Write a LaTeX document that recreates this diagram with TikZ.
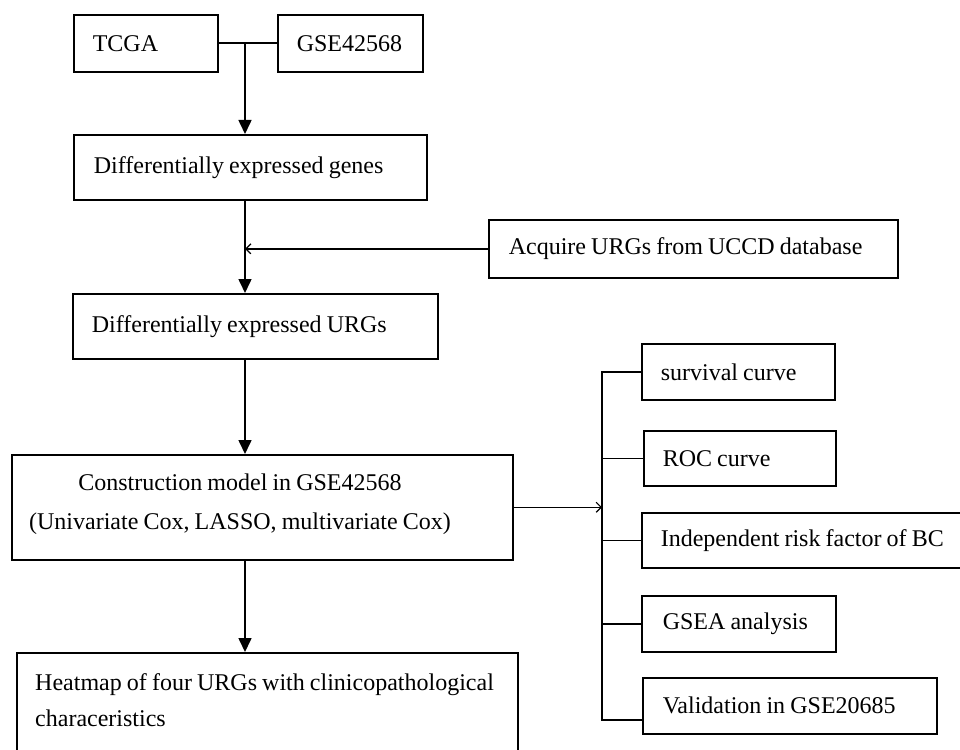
\documentclass[tikz,border=0pt]{standalone}
\usepackage{fontspec}
\setmainfont{Liberation Serif}[WordSpace=0.85]
\usetikzlibrary{arrows.meta}
\tikzset{
  bx/.style={draw, line width=1.6pt, anchor=north west, inner ysep=0pt, align=left,
    font=\fontsize{24}{36}\selectfont, execute at begin node={\spaceskip=0pt\xspaceskip=0pt\relax}},
  txt/.style={inner sep=0pt, font=\fontsize{24}{36}\selectfont},
  ln/.style={line width=1.6pt},
  big/.style={ln, -{Triangle[width=13pt,length=14pt]}},
  small/.style={ln, -{Straight Barb[length=5pt,width=10pt,line width=1.2pt]}}
}
\begin{document}
\begin{tikzpicture}[x=1pt,y=-1pt]
\useasboundingbox (0,0) rectangle (960,749);
\clip (0,0) rectangle (960,749);
\fill[white] (0,0) rectangle (960,749);
% top boxes
\node[bx, inner xsep=19pt, text width=106pt, minimum height=57pt] (tcga) at (73,14) {TCGA};
\node[bx, inner xsep=19pt, text width=107pt, minimum height=57pt] (gse) at (277,14) {GSE42568};
\node[bx, inner xsep=20pt, text width=313pt, minimum height=65pt] (deg) at (73,134) {Differentially expressed genes};
\node[bx, inner xsep=20pt, text width=369pt, minimum height=58pt] (acq) at (488,219) {Acquire URGs from UCCD database};
\node[bx, inner xsep=19pt, text width=327pt, minimum height=65pt] (urg) at (72,293) {Differentially expressed URGs};
% construction model box
\node[draw, line width=1.6pt, anchor=north west, inner sep=0pt, minimum width=501pt, minimum height=105pt] (con) at (11,454) {};
\node[txt, align=center] (contxt) at (240,504) {Construction model in GSE42568\\[3pt](Univariate Cox, LASSO, multivariate Cox)};
% heatmap box (cut at the bottom)
\node[draw, line width=1.6pt, anchor=north west, inner sep=0pt, minimum width=501pt, minimum height=130pt] (heat) at (16,652) {};
\node[txt, align=left, anchor=west] (heattxt) at (35,700) {Heatmap of four URGs with clinicopathological\\characeristics};
% right column
\node[bx, inner xsep=19pt, text width=155pt, minimum height=56pt] (sv) at (641,343) {survival curve};
\node[bx, inner xsep=19pt, text width=154pt, minimum height=55pt] (roc) at (643,430) {ROC curve};
\node[bx, inner xsep=19pt, text width=302pt, minimum height=55pt] (ind) at (641,512) {Independent risk factor of BC};
\node[bx, inner xsep=21pt, text width=152pt, minimum height=56pt] (gsea) at (641,595) {GSEA analysis};
\node[bx, inner xsep=20pt, text width=254pt, minimum height=56pt] (val) at (642,677) {Validation in GSE20685};
% connectors
\coordinate (spine) at (245,0);
\coordinate (busT) at (602,372);
\coordinate (busB) at (602,720);
\draw[ln] (tcga.east) -- (gse.west);
\draw[big] (tcga.east -| spine) -- (deg.north -| spine);
\draw[big] (deg.south -| spine) -- (urg.north -| spine);
\draw[small] (acq.west) -- (acq.west -| spine);
\draw[big] (urg.south -| spine) -- (con.north -| spine);
\draw[big] (con.south -| spine) -- (heat.north -| spine);
\draw[ln] (sv.west) -- (sv.west -| busT) -- (busB) -- (busB -| val.west);
\draw[ln] (roc.west) -- (roc.west -| busT);
\draw[ln] (ind.west) -- (ind.west -| busT);
\draw[ln] (gsea.west) -- (gsea.west -| busT);
\draw[small] (con.east) -- (con.east -| busT);
\end{tikzpicture}
\end{document}
